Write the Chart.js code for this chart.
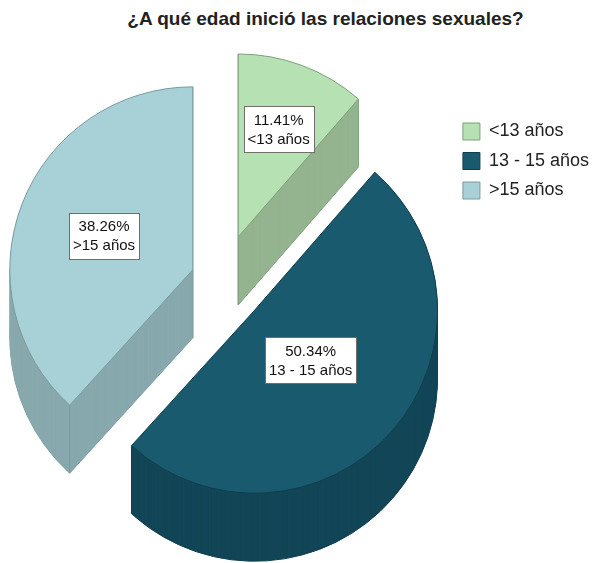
<!DOCTYPE html>
<html lang="es">
<head>
<meta charset="utf-8">
<title>Edad de inicio de relaciones sexuales</title>
<script src="https://cdn.jsdelivr.net/npm/chart.js@4.4.1/dist/chart.umd.min.js"></script>
<style>
  html, body { margin: 0; padding: 0; background: #fff; }
  #wrap { position: relative; width: 593px; height: 563px; overflow: hidden; }
  #chartTitle {
    position: absolute; top: 8px; left: 58px; right: 0;
    text-align: center; white-space: nowrap;
    font: bold 19px "Liberation Sans", Arial, sans-serif; color: #222;
  }
  /* el lienzo empieza un poco a la izquierda para que el pastel quede centrado bajo el título */
  #edadChart { position: absolute; left: -8px; top: 0; }
</style>
</head>
<body>
<div id="wrap">
  <div id="chartTitle">¿A qué edad inició las relaciones sexuales?</div>
  <canvas id="edadChart" width="601" height="563"></canvas>
</div>
<script>
// categorias y porcentajes
const categorias = ["<13 años", "13 - 15 años", ">15 años"];
const porcentajes = [11.41, 50.34, 38.26];

// colores: cara superior, pared lateral y borde de cada sector
const coloresCara = ["#b6e2b3", "#1a5a6f", "#a7d1d7"];
const coloresLado = ["#93b48e", "#124657", "#88a9ad"];
const coloresBorde = ["#7f9f7b", "#0f3e4d", "#7a9ba0"];

Chart.defaults.font.family = '"Liberation Sans", Arial, sans-serif';

// pastel 3D: separa cada sector, dibuja la pared lateral y encima la cara
const pie3d = {
    id: "pie3d",
    beforeDatasetsDraw(chart, args, opts) {
        const ctx = chart.ctx;
        const arcs = chart.getDatasetMeta(0).data;

        arcs.forEach((arc, i) => {
            const { x, y, startAngle, endAngle, outerRadius: r } = arc;
            const mid = (startAngle + endAngle) / 2;
            const dx = Math.cos(mid) * opts.explode[i];
            const dy = Math.sin(mid) * opts.explode[i];
            const cx = x + dx;
            const cy = y + dy;
            const depth = opts.depth;

            const slicePath = (off) => {
                ctx.beginPath();
                ctx.moveTo(cx, cy + off);
                ctx.arc(cx, cy + off, r, startAngle, endAngle);
                ctx.closePath();
            };

            ctx.save();
            // contorno inferior
            ctx.fillStyle = opts.sideColors[i];
            ctx.strokeStyle = opts.edgeColors[i];
            ctx.lineWidth = 1;
            slicePath(depth);
            ctx.fill();
            ctx.stroke();
            // pared lateral
            for (let k = depth - 1; k > 0; k--) {
                slicePath(k);
                ctx.fill();
            }
            // aristas verticales
            const verts = [
                [cx, cy],
                [cx + Math.cos(startAngle) * r, cy + Math.sin(startAngle) * r],
                [cx + Math.cos(endAngle) * r, cy + Math.sin(endAngle) * r],
            ];
            ctx.beginPath();
            verts.forEach(([vx, vy]) => {
                ctx.moveTo(vx, vy);
                ctx.lineTo(vx, vy + depth);
            });
            ctx.stroke();

            // cara superior, dibujada por el propio arco
            ctx.translate(dx, dy);
            arc.draw(ctx);
            ctx.restore();

            // etiqueta con porcentaje y categoría
            const lx = cx + Math.cos(mid) * r * opts.labelRadius[i];
            const ly = cy + Math.sin(mid) * r * opts.labelRadius[i];
            const lines = [porcentajes[i].toFixed(2) + "%", categorias[i]];
            ctx.save();
            ctx.font = opts.labelFont;
            const w = Math.max(...lines.map((t) => ctx.measureText(t).width)) + 8;
            const lh = 19;
            const h = lh * lines.length + 8;
            const bx = Math.round(lx - w / 2) + 0.5;
            const by = Math.round(ly - h / 2) + 0.5;
            ctx.fillStyle = "#fff";
            ctx.strokeStyle = "#6f6f6f";
            ctx.lineWidth = 1;
            ctx.fillRect(bx, by, Math.round(w), Math.round(h));
            ctx.strokeRect(bx, by, Math.round(w), Math.round(h));
            ctx.fillStyle = "#111";
            ctx.textAlign = "center";
            ctx.textBaseline = "middle";
            lines.forEach((t, j) => {
                ctx.fillText(t, lx, ly - h / 2 + 4 + lh * j + lh / 2 + 1);
            });
            ctx.restore();
        });
        return false;
    },
};

const canvas = document.getElementById("edadChart");

new Chart(canvas.getContext("2d"), {
    type: "pie",
    data: {
        labels: categorias,
        datasets: [
            {
                data: porcentajes,
                backgroundColor: coloresCara,
                borderColor: coloresBorde,
                borderWidth: 1,
                offset: 0,
            },
        ],
    },
    options: {
        responsive: false,
        animation: false,
        events: [],
        radius: 183,
        layout: {
            padding: { left: 0, right: -6, top: 111, bottom: 112 },
        },
        plugins: {
            tooltip: { enabled: false },
            title: { display: false },
            legend: {
                position: "right",
                align: "start",
                labels: {
                    color: "#222",
                    font: { size: 18 },
                    boxWidth: 17,
                    boxHeight: 17,
                    padding: 11.5,
                },
            },
            pie3d: {
                depth: 68,
                explode: [47, 44, 31],
                labelRadius: [0.63, 0.41, 0.52],
                sideColors: coloresLado,
                edgeColors: coloresBorde,
                labelFont: '15px "Liberation Sans", Arial, sans-serif',
            },
        },
    },
    plugins: [pie3d],
});
</script>
</body>
</html>
